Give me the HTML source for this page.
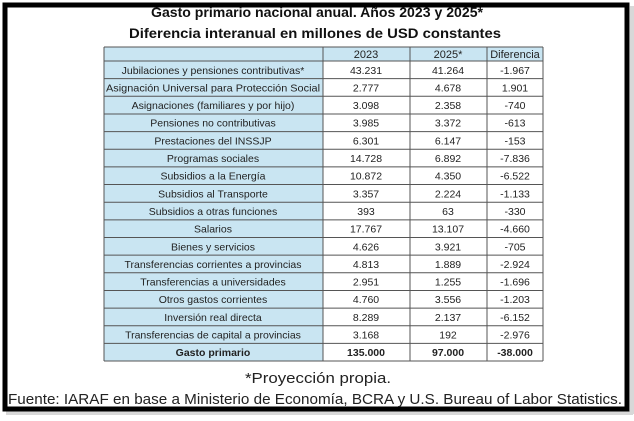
<!DOCTYPE html>
<html><head><meta charset="utf-8"><style>
html,body{margin:0;padding:0;background:#fff;}
svg{display:block;}
text{font-family:"Liberation Sans",sans-serif;}
</style></head><body>
<svg width="634" height="421" viewBox="0 0 634 421" xmlns="http://www.w3.org/2000/svg">
<rect x="0" y="0" width="634" height="421" fill="#fff"/>
<rect x="630" y="6" width="4" height="408" fill="#d8d8d8"/>
<rect x="6" y="411" width="627" height="4" fill="#d8d8d8"/>
<rect x="5" y="5" width="622" height="404" fill="none" stroke="#000" stroke-width="5"/>
<text x="317" y="17" text-anchor="middle" font-weight="bold" font-size="14" textLength="332" lengthAdjust="spacingAndGlyphs" fill="#111">Gasto primario nacional anual. Años 2023 y 2025*</text>
<text x="315" y="38" text-anchor="middle" font-weight="bold" font-size="14" textLength="372" lengthAdjust="spacingAndGlyphs" fill="#111">Diferencia interanual en millones de USD constantes</text>
<!-- backgrounds -->
<rect x="104" y="47" width="439" height="14" fill="#c9e5f2"/>
<rect x="104" y="61" width="219" height="300" fill="#c9e5f2"/>
<rect x="323" y="61" width="220" height="300" fill="#fff"/>
<g stroke="#555" stroke-width="1">
<line x1="104" y1="47" x2="543" y2="47"/>
<line x1="104" y1="61" x2="543" y2="61"/>
<line x1="104" y1="78.65" x2="543" y2="78.65"/><line x1="104" y1="96.3" x2="543" y2="96.3"/><line x1="104" y1="113.95" x2="543" y2="113.95"/><line x1="104" y1="131.6" x2="543" y2="131.6"/><line x1="104" y1="149.25" x2="543" y2="149.25"/><line x1="104" y1="166.9" x2="543" y2="166.9"/><line x1="104" y1="184.55" x2="543" y2="184.55"/><line x1="104" y1="202.2" x2="543" y2="202.2"/><line x1="104" y1="219.85" x2="543" y2="219.85"/><line x1="104" y1="237.5" x2="543" y2="237.5"/><line x1="104" y1="255.15" x2="543" y2="255.15"/><line x1="104" y1="272.8" x2="543" y2="272.8"/><line x1="104" y1="290.45" x2="543" y2="290.45"/><line x1="104" y1="308.1" x2="543" y2="308.1"/><line x1="104" y1="325.75" x2="543" y2="325.75"/><line x1="104" y1="343.4" x2="543" y2="343.4"/>
<line x1="104" y1="361" x2="543" y2="361"/>
<line x1="104" y1="47" x2="104" y2="361"/>
<line x1="323" y1="47" x2="323" y2="361"/>
<line x1="410" y1="47" x2="410" y2="361"/>
<line x1="487" y1="47" x2="487" y2="361"/>
<line x1="543" y1="47" x2="543" y2="361"/>
</g>
<g font-size="11" fill="#222" text-anchor="middle">
<text x="366" y="58">2023</text><text x="448" y="58">2025*</text><text x="515" y="58">Diferencia</text>
</g>
<g font-size="10.5" fill="#222" text-anchor="middle" id="rows">
<text x="213" y="73.8">Jubilaciones y pensiones contributivas*</text><text x="366" y="73.8">43.231</text><text x="448" y="73.8">41.264</text><text x="515" y="73.8">-1.967</text>
<text x="213" y="91.4" textLength="214" lengthAdjust="spacingAndGlyphs">Asignación Universal para Protección Social</text><text x="366" y="91.4">2.777</text><text x="448" y="91.4">4.678</text><text x="515" y="91.4">1.901</text>
<text x="213" y="109.1">Asignaciones (familiares y por hijo)</text><text x="366" y="109.1">3.098</text><text x="448" y="109.1">2.358</text><text x="515" y="109.1">-740</text>
<text x="213" y="126.7">Pensiones no contributivas</text><text x="366" y="126.7">3.985</text><text x="448" y="126.7">3.372</text><text x="515" y="126.7">-613</text>
<text x="213" y="144.4">Prestaciones del INSSJP</text><text x="366" y="144.4">6.301</text><text x="448" y="144.4">6.147</text><text x="515" y="144.4">-153</text>
<text x="213" y="162">Programas sociales</text><text x="366" y="162">14.728</text><text x="448" y="162">6.892</text><text x="515" y="162">-7.836</text>
<text x="213" y="179.7">Subsidios a la Energía</text><text x="366" y="179.7">10.872</text><text x="448" y="179.7">4.350</text><text x="515" y="179.7">-6.522</text>
<text x="213" y="197.3">Subsidios al Transporte</text><text x="366" y="197.3">3.357</text><text x="448" y="197.3">2.224</text><text x="515" y="197.3">-1.133</text>
<text x="213" y="215">Subsidios a otras funciones</text><text x="366" y="215">393</text><text x="448" y="215">63</text><text x="515" y="215">-330</text>
<text x="213" y="232.6">Salarios</text><text x="366" y="232.6">17.767</text><text x="448" y="232.6">13.107</text><text x="515" y="232.6">-4.660</text>
<text x="213" y="250.3">Bienes y servicios</text><text x="366" y="250.3">4.626</text><text x="448" y="250.3">3.921</text><text x="515" y="250.3">-705</text>
<text x="213" y="267.9">Transferencias corrientes a provincias</text><text x="366" y="267.9">4.813</text><text x="448" y="267.9">1.889</text><text x="515" y="267.9">-2.924</text>
<text x="213" y="285.6">Transferencias a universidades</text><text x="366" y="285.6">2.951</text><text x="448" y="285.6">1.255</text><text x="515" y="285.6">-1.696</text>
<text x="213" y="303.2">Otros gastos corrientes</text><text x="366" y="303.2">4.760</text><text x="448" y="303.2">3.556</text><text x="515" y="303.2">-1.203</text>
<text x="213" y="320.9">Inversión real directa</text><text x="366" y="320.9">8.289</text><text x="448" y="320.9">2.137</text><text x="515" y="320.9">-6.152</text>
<text x="213" y="338.5">Transferencias de capital a provincias</text><text x="366" y="338.5">3.168</text><text x="448" y="338.5">192</text><text x="515" y="338.5">-2.976</text>
<g font-weight="bold"><text x="213" y="356.2">Gasto primario</text><text x="366" y="356.2">135.000</text><text x="448" y="356.2">97.000</text><text x="515" y="356.2">-38.000</text></g>
</g>
<text x="318" y="383" text-anchor="middle" font-size="15" fill="#222" textLength="146" lengthAdjust="spacingAndGlyphs">*Proyección propia.</text>
<text x="315" y="404" text-anchor="middle" font-size="15" fill="#222" textLength="614" lengthAdjust="spacingAndGlyphs">Fuente: IARAF en base a Ministerio de Economía, BCRA y U.S. Bureau of Labor Statistics.</text>
</svg>
</body></html>
